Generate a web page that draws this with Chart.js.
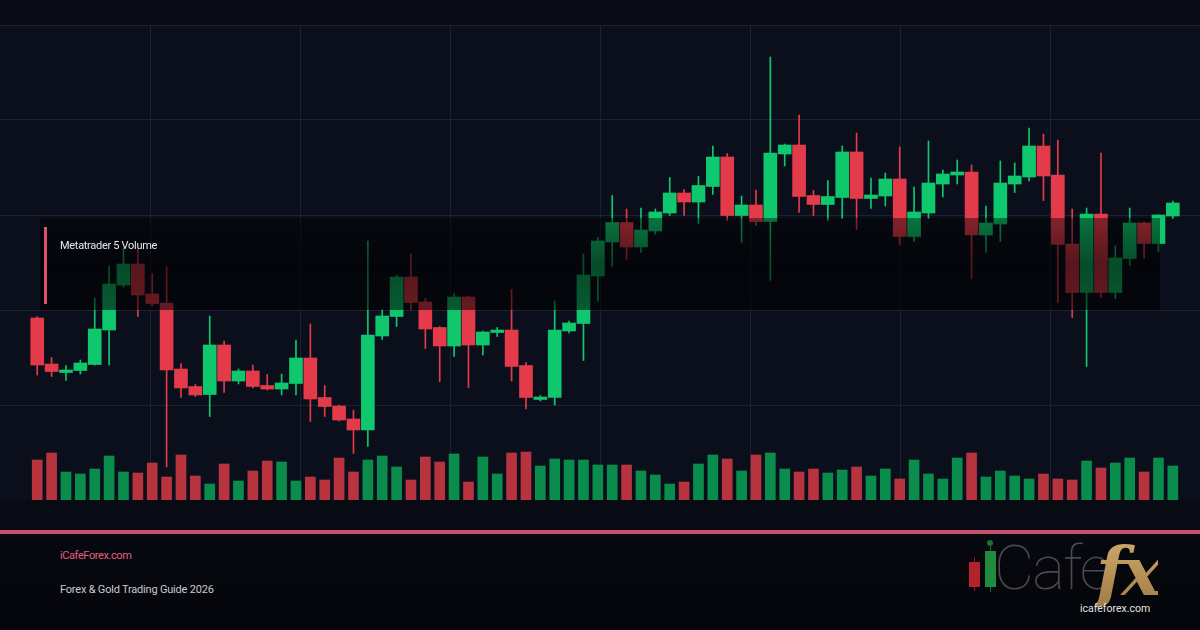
<!DOCTYPE html>
<html>
<head>
<meta charset="utf-8">
<script src="https://cdn.jsdelivr.net/npm/chart.js@4.4.1/dist/chart.umd.min.js"></script>
<style>
  html, body { margin: 0; padding: 0; }
  body {
    width: 1200px; height: 630px; overflow: hidden; position: relative;
    background: #080b14; font-family: Roboto, "Noto Sans", sans-serif;
  }
  #chart { position: absolute; left: 0; top: 0; }
  .footer {
    position: absolute; left: 0; top: 530px; width: 1200px; height: 100px;
    background: linear-gradient(180deg, #070910, #04050a);
    border-top: 4px solid #c9506b; box-sizing: border-box;
  }
  .legend-box {
    position: absolute; left: 40px; top: 218px; width: 1120px; height: 92px;
    background: linear-gradient(180deg, rgba(0,0,0,0.42), rgba(0,0,0,0.62) 50%, rgba(0,0,0,0.55));
  }
  .legend-bar { position: absolute; left: 4px; top: 9px; width: 3px; height: 77px; background: #dc526b; }
  .legend-text { position: absolute; left: 20px; top: 21px; font-size: 11px; color: #e6e8ee; letter-spacing: -0.3px; }
  .site { position: absolute; left: 60px; top: 549px; font-size: 11px; color: #e0607b; letter-spacing: -0.4px; }
  .guide { position: absolute; left: 60px; top: 583px; font-size: 11px; color: #c9cbd1; letter-spacing: -0.2px; }
  .logo-c { position: absolute; width: 11px; }
  .logo-w { position: absolute; width: 1px; }
  .cafe { position: absolute; left: 994px; top: 531px; font-size: 62px; font-weight: 100; color: #4a4a4c; letter-spacing: -2px; }
  .fx {
    position: absolute; left: 1096px; top: 531px; font-family: "DejaVu Serif", serif; font-style: italic;
    font-weight: bold; font-size: 68px; letter-spacing: -4px; line-height: 1.2;
    background: linear-gradient(180deg, #d2ae6c, #9c7845); -webkit-background-clip: text; background-clip: text; color: transparent;
  }
  .logo-url { position: absolute; left: 1080px; top: 602px; font-size: 10.5px; color: #e4e4e4; }
</style>
</head>
<body>
<canvas id="chart" width="1200" height="500"></canvas>
<div class="legend-box"><div class="legend-bar"></div><div class="legend-text">Metatrader 5 Volume</div></div>
<div class="footer"></div>
<div class="site">iCafeForex.com</div>
<div class="guide">Forex &amp; Gold Trading Guide 2026</div>
<div class="logo-w" style="left:974px;top:557px;height:34px;background:#8e1c24"></div>
<div class="logo-c" style="left:969px;top:562px;height:25px;background:#b3222c"></div>
<div class="logo-w" style="left:990px;top:543px;height:49px;background:#1c6e34"></div>
<div style="position:absolute;left:987px;top:540px;width:6px;height:6px;border-radius:3px;background:#1c6e34"></div>
<div class="logo-c" style="left:985px;top:551px;height:36px;background:#1f8c3e"></div>
<div class="cafe">Cafe</div>
<div class="fx">fx</div>
<div class="logo-url">icafeforex.com</div>
<script>
// OHLC, one entry per candle
const opens = [
  1936.4, 1927.2, 1925.5, 1925.9, 1927.1, 1934.0, 1943.0, 1947.2, 1941.2, 1939.4,
  1926.2, 1922.7, 1921.1, 1931.0, 1923.8, 1925.8, 1922.9, 1922.2, 1923.3, 1928.4,
  1920.5, 1918.8, 1916.2, 1914.0, 1932.8, 1936.7, 1944.6, 1939.6, 1934.5, 1930.8,
  1940.6, 1931.0, 1933.5, 1934.0, 1926.9, 1920.1, 1920.5, 1933.8, 1935.3, 1944.8,
  1951.6, 1955.5, 1950.6, 1953.8, 1957.4, 1961.4, 1959.6, 1962.7, 1968.6, 1956.9,
  1959.0, 1955.7, 1969.2, 1971.0, 1960.9, 1959.1, 1960.5, 1969.6, 1960.3, 1960.8,
  1964.2, 1952.7, 1957.4, 1963.2, 1965.0, 1965.6, 1953.0, 1955.2, 1963.2, 1964.6,
  1970.8, 1965.0, 1951.2, 1941.5, 1957.2, 1941.5, 1948.3, 1955.4, 1951.3, 1956.8
];
const highs = [
  1936.7, 1928.5, 1926.9, 1928.0, 1940.4, 1946.8, 1950.4, 1950.2, 1945.3, 1946.7,
  1927.3, 1923.1, 1936.8, 1931.8, 1926.2, 1927.0, 1925.1, 1925.2, 1932.0, 1935.2,
  1922.9, 1919.0, 1918.0, 1951.8, 1938.1, 1945.0, 1949.3, 1940.3, 1934.7, 1941.3,
  1940.8, 1933.8, 1934.5, 1942.1, 1927.5, 1920.9, 1939.8, 1935.8, 1949.2, 1952.5,
  1960.9, 1958.2, 1958.4, 1958.2, 1964.5, 1962.1, 1964.7, 1970.8, 1969.3, 1960.8,
  1962.0, 1988.6, 1971.2, 1977.0, 1961.9, 1963.9, 1970.8, 1973.4, 1964.4, 1965.4,
  1970.6, 1962.6, 1971.8, 1966.0, 1968.0, 1967.0, 1958.8, 1967.8, 1967.4, 1974.4,
  1973.2, 1972.0, 1958.2, 1958.4, 1969.4, 1950.8, 1958.4, 1955.6, 1957.0, 1959.8
];
const lows = [
  1925.0, 1924.7, 1923.9, 1925.2, 1927.0, 1927.0, 1942.6, 1936.7, 1938.8, 1906.6,
  1920.5, 1920.7, 1916.7, 1921.5, 1923.2, 1922.4, 1922.0, 1921.0, 1921.0, 1915.7,
  1916.7, 1915.8, 1909.3, 1910.7, 1932.1, 1934.7, 1938.0, 1930.3, 1923.7, 1928.7,
  1922.5, 1929.0, 1932.7, 1923.8, 1918.2, 1919.8, 1919.0, 1933.4, 1927.9, 1939.8,
  1946.7, 1948.0, 1949.5, 1953.2, 1956.9, 1956.9, 1955.3, 1961.1, 1955.9, 1951.5,
  1954.9, 1943.9, 1966.8, 1957.5, 1956.9, 1955.9, 1956.3, 1954.1, 1958.3, 1958.8,
  1951.1, 1951.7, 1956.3, 1960.6, 1963.2, 1944.3, 1949.5, 1951.7, 1961.5, 1963.8,
  1959.9, 1939.5, 1936.5, 1926.7, 1940.5, 1940.3, 1946.9, 1948.3, 1949.7, 1956.3
];
const closes = [
  1927.0, 1925.7, 1926.0, 1927.4, 1934.2, 1943.2, 1947.2, 1941.0, 1939.3, 1926.0,
  1922.4, 1921.0, 1931.0, 1923.8, 1925.8, 1922.7, 1922.2, 1923.4, 1928.4, 1920.2,
  1918.7, 1916.0, 1914.0, 1933.0, 1936.8, 1944.6, 1939.5, 1934.2, 1930.8, 1940.6,
  1931.0, 1933.6, 1934.0, 1926.7, 1920.5, 1920.6, 1934.0, 1935.4, 1945.0, 1951.8,
  1955.5, 1950.6, 1954.0, 1957.6, 1961.4, 1959.6, 1962.9, 1968.6, 1956.9, 1959.0,
  1955.7, 1969.4, 1971.0, 1960.7, 1959.1, 1960.7, 1969.6, 1960.3, 1961.0, 1964.2,
  1952.7, 1957.6, 1963.4, 1965.2, 1965.6, 1953.0, 1955.4, 1963.4, 1964.8, 1970.8,
  1964.8, 1951.1, 1941.5, 1957.2, 1941.5, 1948.4, 1955.4, 1951.3, 1957.0, 1959.4
];
const volumes = [
  4000, 4700, 2800, 2600, 3100, 4400, 2800, 2700, 3700, 2300,
  4500, 2400, 1600, 3600, 1900, 2900, 3900, 3800, 1900, 2300,
  2000, 4200, 2800, 4000, 4400, 3300, 2000, 4300, 3800, 4600,
  1800, 4300, 2600, 4700, 4800, 3400, 4100, 4000, 4000, 3500,
  3500, 3500, 2900, 2500, 1600, 1800, 3600, 4500, 4100, 2900,
  4500, 4700, 3100, 2800, 3100, 2700, 3000, 3300, 2400, 3100,
  2100, 4000, 2600, 2100, 4200, 4700, 2300, 2900, 2400, 2100,
  2600, 2100, 2000, 3900, 3200, 3700, 4200, 2800, 4200, 3400
];
// horizontal grid levels and vertical grid columns
const priceLevels = [1900, 1919, 1938, 1957, 1976, 1995];
const gridColumns = [1, 2, 3, 4, 5, 6, 7];

const UP = '#0fc76c';
const DOWN = '#e43b4b';
const VOL_UP = '#0a8c4c';
const VOL_DOWN = '#b7343f';
const GRID = '#1c2234';

const isUp = i => closes[i] >= opens[i];
const candleColor = ctx => isUp(ctx.dataIndex) ? UP : DOWN;
const volColor = ctx => isUp(ctx.dataIndex) ? VOL_UP : VOL_DOWN;

// paint the plot area a touch lighter than the page
const plotBg = {
  id: 'plotBg',
  beforeDraw(chart) {
    const {ctx, chartArea: a} = chart;
    ctx.save();
    ctx.fillStyle = '#0b0f1c';
    ctx.fillRect(a.left, a.top, a.right - a.left, a.bottom - a.top);
    ctx.restore();
  }
};

new Chart(document.getElementById('chart'), {
  type: 'bar',
  data: {
    datasets: [
      {
        label: 'wick',
        data: opens.map((o, i) => ({x: i, y: [lows[i], highs[i]]})),
        backgroundColor: candleColor,
        barThickness: 1,
        grouped: false,
        order: 3
      },
      {
        label: 'body',
        data: opens.map((o, i) => ({x: i, y: [o, closes[i]]})),
        backgroundColor: candleColor,
        barThickness: 13,
        grouped: false,
        order: 2
      },
      {
        label: 'volume',
        data: volumes.map((v, i) => ({x: i, y: v})),
        yAxisID: 'yv',
        backgroundColor: volColor,
        barThickness: 10,
        grouped: false,
        order: 1
      }
    ]
  },
  options: {
    responsive: false,
    animation: false,
    layout: { padding: { top: 25, left: 0, right: 0, bottom: 0 } },
    plugins: { legend: { display: false }, tooltip: { enabled: false } },
    scales: {
      x: { type: 'linear', min: -2.59, max: 80.89, offset: false, display: false },
      xg: {
        type: 'linear', position: 'bottom', min: 0, max: 8, offset: false,
        grid: { color: GRID, drawTicks: false, offset: false },
        border: { display: false },
        ticks: { display: false },
        afterBuildTicks: axis => { axis.ticks = gridColumns.map(v => ({value: v})); }
      },
      y: {
        min: 1900, max: 1995,
        grid: { color: GRID, drawTicks: false },
        border: { display: false },
        ticks: { display: false },
        afterBuildTicks: axis => { axis.ticks = priceLevels.map(v => ({value: v})); }
      },
      yv: { min: 0, max: 47500, display: false }
    }
  },
  plugins: [plotBg]
});
</script>
</body>
</html>
